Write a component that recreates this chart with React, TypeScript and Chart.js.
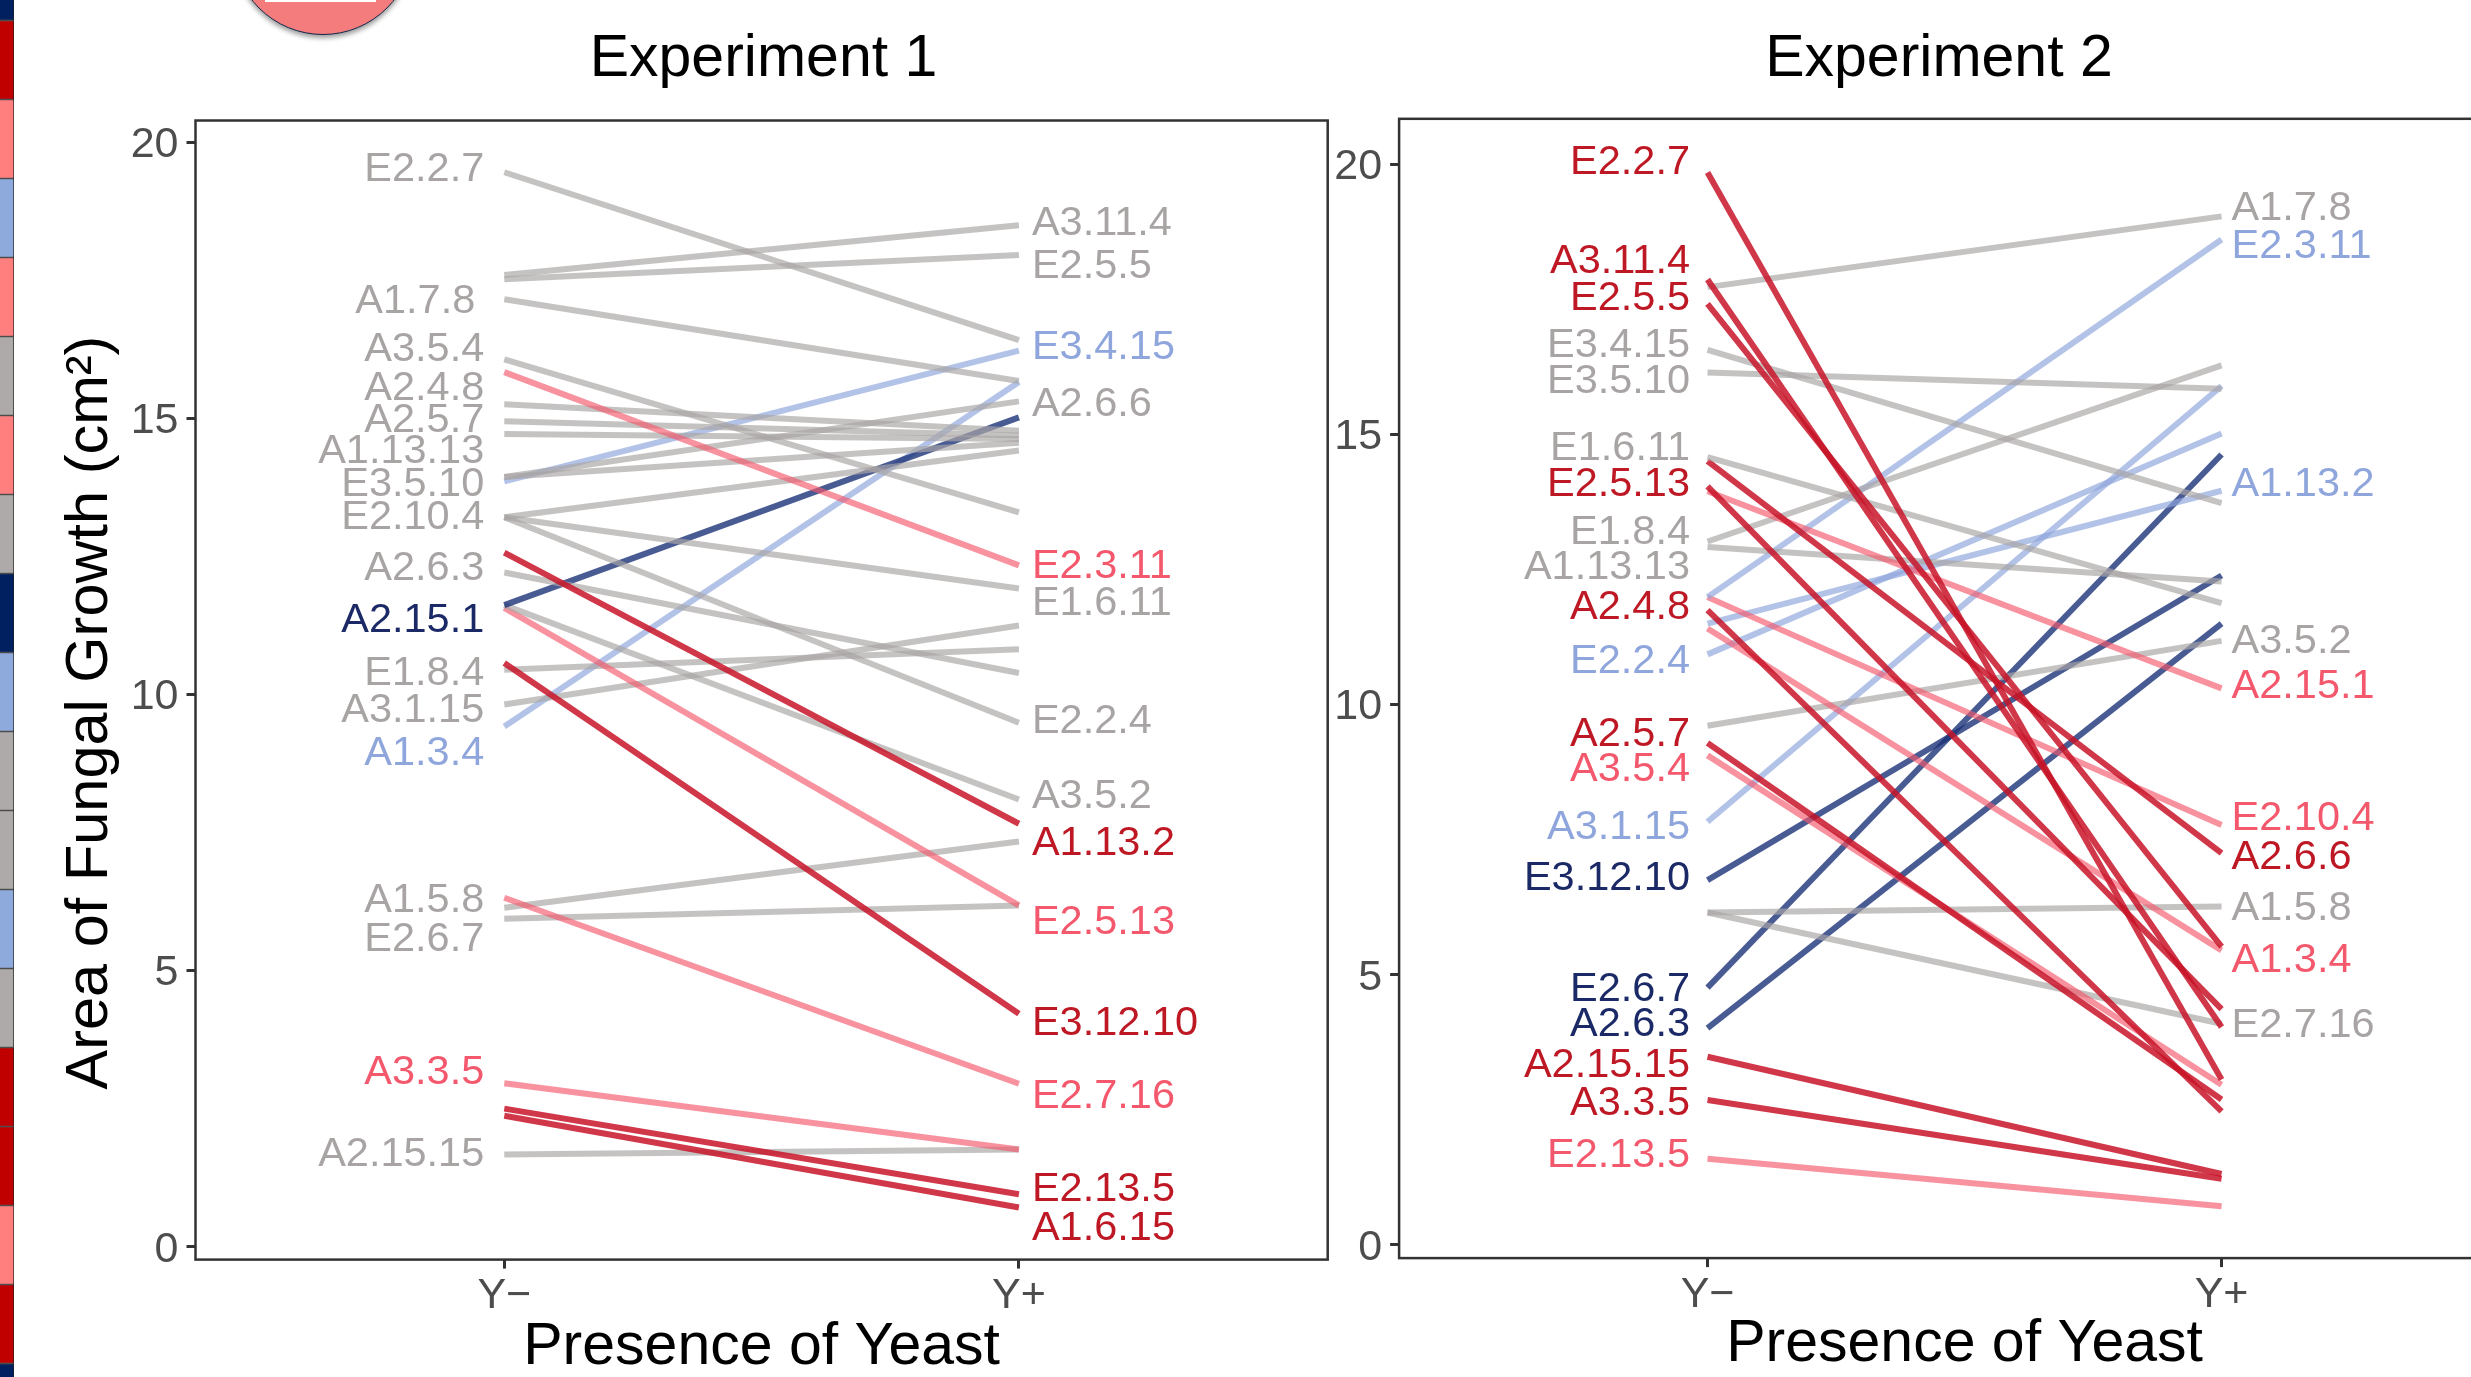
import React, { useEffect, useRef } from "react";
import { Chart, registerables } from "chart.js";

Chart.register(...registerables);

const FONT = "'Liberation Sans', Arial, sans-serif";

const xLabels = ["Y\u2212", "Y+"];
const yTicks = [0, 5, 10, 15, 20];

// Experiment 1
const exp1Names = ["E2.2.7","A3.11.4","E2.5.5","A1.7.8","A3.5.4","E2.3.11","A2.4.8","A2.5.7","A1.13.13","E3.5.10","A2.6.6","E3.4.15","E2.10.4","E1.6.11","E2.2.4","A1.13.2","A2.6.3","A2.15.1","A3.5.2","E2.5.13","E3.12.10","E1.8.4","A3.1.15","A1.3.4","E2.7.16","A1.5.8","E2.6.7","A3.3.5","E2.13.5","A1.6.15","A2.15.15"];
const exp1YMinus = [19.46,17.6,17.52,17.16,16.07,15.84,15.26,14.95,14.72,13.94,13.94,13.86,13.21,13.21,13.21,12.57,12.21,11.62,11.62,11.57,10.57,10.45,9.82,9.42,6.32,6.14,5.94,2.96,2.5,2.37,1.67];
const exp1YPlus = [16.42,18.5,17.96,15.68,13.3,12.34,14.78,14.69,14.63,14.56,15.31,16.23,14.42,11.92,9.49,7.66,10.39,15.02,8.1,6.18,4.22,10.82,11.25,15.66,2.95,7.34,6.18,1.76,0.95,0.71,1.76];
const exp1Class = ["gray","gray","gray","gray","gray","pink","gray","gray","gray","gray","gray","blue","gray","gray","gray","red","gray","navy","gray","pink","red","gray","gray","blue","pink","gray","gray","pink","red","red","gray"];
const exp1Side = ["L","R","R","L","L","R","L","L","L","L","R","R","L","R","R","R","L","L","R","R","R","L","L","L","R","L","L","L","R","R","L"];
const exp1LabelY = [19.56,18.59,17.81,17.18,16.3,12.38,15.59,15.01,14.45,13.85,15.3,16.33,13.26,11.7,9.57,7.35,12.33,11.39,8.2,5.93,4.09,10.44,9.77,8.98,2.78,6.33,5.61,3.2,1.09,0.39,1.73];

// Experiment 2
const exp2Names = ["E2.2.7","A3.11.4","A1.7.8","E2.5.5","E3.4.15","E3.5.10","E1.6.11","A2.6.6","E2.5.13","A2.15.1","E1.8.4","A1.13.13","E2.3.11","E2.10.4","A2.4.8","A1.13.2","A1.3.4","E2.2.4","A3.5.2","A2.5.7","A3.5.4","A3.1.15","E3.12.10","A1.5.8","E2.7.16","E2.6.7","A2.6.3","A2.15.15","A3.3.5","E2.13.5"];
const exp2YMinus = [19.85,17.87,17.73,17.42,16.57,16.15,14.58,14.51,14.04,13.95,13.02,12.92,11.99,11.99,11.75,11.5,11.41,10.93,9.61,9.29,9.06,7.83,6.75,6.15,6.15,4.76,4.01,3.48,2.68,1.59];
const exp2YPlus = [3.06,4.03,19.04,5.52,13.73,15.85,11.88,7.25,4.36,10.3,16.28,12.28,18.61,7.77,2.47,13.96,5.45,15.02,11.18,2.69,2.96,15.9,12.39,6.26,4.09,14.63,11.5,1.31,1.22,0.71];
const exp2Class = ["red","red","gray","red","gray","gray","gray","red","red","pink","gray","gray","blue","pink","red","blue","pink","blue","gray","red","pink","blue","navy","gray","gray","navy","navy","red","red","pink"];
const exp2Side = ["L","L","R","L","L","L","L","R","L","R","L","L","R","R","L","R","R","L","R","L","L","L","L","R","R","L","L","L","L","L"];
const exp2LabelY = [20.1,18.25,19.24,17.57,16.7,16.03,14.79,7.22,14.13,10.39,13.25,12.59,18.53,7.94,11.85,14.13,5.31,10.86,11.23,9.51,8.85,7.77,6.84,6.27,4.12,4.78,4.14,3.38,2.66,1.7];

// Heat strip at the left edge
const stripCells = ["navy","red","salmon","blue","salmon","gray","salmon","gray","navy","blue","gray","gray","blue","gray","red","red","salmon","red","navy"];

const lineColor: Record<string, string> = {
  gray: "rgba(170,165,165,0.68)",
  pink: "rgba(244,90,110,0.66)",
  red: "rgba(200,20,40,0.85)",
  blue: "rgba(143,166,221,0.68)",
  navy: "rgba(27,50,120,0.8)",
};
const labelColor: Record<string, string> = {
  gray: "#A8A4A4",
  pink: "#F4586C",
  red: "#BE1824",
  blue: "#8FA6DD",
  navy: "#1B2A66",
};
const stripColor: Record<string, string> = {
  navy: "#002060",
  red: "#C00000",
  salmon: "#FF7F7F",
  blue: "#8EA9DB",
  gray: "#AEAAAA",
};

type PanelCfg = {
  title: string;
  names: string[];
  minus: number[];
  plus: number[];
  cls: string[];
  side: string[];
  labelY: number[];
  nudge: Record<string, number>;
  leftGap: number;
  rightGap: number;
  yMin: number;
  yMax: number;
  showYTitle: boolean;
  canvasLeft: number;
  canvasWidth: number;
  padRight: number;
  yAxisWidth: number;
  xAxisHeight: number;
  xTitlePad: number;
  titleTop: number;
  titleBottom: number;
  titleShift: number;
};

const panels: PanelCfg[] = [
  {
    title: "Experiment 1", names: exp1Names, minus: exp1YMinus, plus: exp1YPlus, cls: exp1Class,
    side: exp1Side, labelY: exp1LabelY, nudge: { "A1.7.8": -9 }, leftGap: 20, rightGap: 13, yMin: -0.234, yMax: 20.397, showYTitle: true,
    canvasLeft: 40, canvasWidth: 1290, padRight: 2.3, yAxisWidth: 155.5, xAxisHeight: 117.4, xTitlePad: 0,
    titleTop: 25, titleBottom: 25.3, titleShift: 1.9,
  },
  {
    title: "Experiment 2", names: exp2Names, minus: exp2YMinus, plus: exp2YPlus, cls: exp2Class,
    side: exp2Side, labelY: exp2LabelY, nudge: {}, leftGap: 17.5, rightGap: 10, yMin: -0.248, yMax: 20.846, showYTitle: false,
    canvasLeft: 1330, canvasWidth: 1202, padRight: 2, yAxisWidth: 69.1, xAxisHeight: 118.9, xTitlePad: 2.75,
    titleTop: 25, titleBottom: 23.6, titleShift: -25.6,
  },
];

function makePanelPlugin(cfg: PanelCfg) {
  return {
    id: "panelExtras",
    afterLayout(chart: any) {
      const t = chart.titleBlock;
      const a = chart.chartArea;
      if (!t) return;
      const half = (t.right - t.left) / 2;
      const c = (a.left + a.right) / 2 + cfg.titleShift;
      t.left = c - half;
      t.right = c + half;
    },
    afterDraw(chart: any) {
      const { ctx, chartArea: a, scales } = chart;
      ctx.save();
      ctx.strokeStyle = "#333333";
      ctx.lineWidth = 2.5;
      ctx.strokeRect(a.left, a.top, a.right - a.left, a.bottom - a.top);
      ctx.font = `41.5px ${FONT}`;
      ctx.textBaseline = "middle";
      cfg.names.forEach((name, i) => {
        const left = cfg.side[i] === "L";
        const x = left ? scales.x.getPixelForValue(1) - cfg.leftGap : scales.x.getPixelForValue(2) + cfg.rightGap;
        ctx.textAlign = left ? "right" : "left";
        ctx.fillStyle = labelColor[cfg.cls[i]];
        ctx.fillText(name, x + (cfg.nudge[name] || 0), scales.y.getPixelForValue(cfg.labelY[i]) + 3);
      });
      ctx.restore();
    },
  };
}

function Panel({ cfg }: { cfg: PanelCfg }) {
  const ref = useRef<HTMLCanvasElement>(null);
  useEffect(() => {
    const chart = new Chart(ref.current as HTMLCanvasElement, {
      type: "line",
      data: {
        datasets: cfg.names.map((name, i) => ({
          label: name,
          data: [
            { x: 1, y: cfg.minus[i] },
            { x: 2, y: cfg.plus[i] },
          ],
          borderColor: lineColor[cfg.cls[i]],
          borderWidth: 6,
          pointRadius: 0,
          tension: 0,
          fill: false,
        })),
      },
      options: {
        responsive: false,
        animation: false,
        layout: { padding: { left: 0, top: 0, bottom: 0, right: cfg.padRight } },
        plugins: {
          legend: { display: false },
          tooltip: { enabled: false },
          title: {
            display: true,
            text: cfg.title,
            color: "#000000",
            font: { family: FONT, size: 59, weight: "normal", lineHeight: 1.19 },
            padding: { top: cfg.titleTop, bottom: cfg.titleBottom },
          },
        },
        scales: {
          x: {
            type: "linear",
            min: 0.4,
            max: 2.6,
            afterBuildTicks: (s: any) => { s.ticks = [{ value: 1 }, { value: 2 }]; },
            afterFit: (s: any) => { s.height = cfg.xAxisHeight; },
            border: { display: false },
            grid: { display: true, drawOnChartArea: false, drawTicks: true, tickLength: 9, tickWidth: 3, tickColor: "#333333" },
            ticks: {
              color: "#4D4D4D",
              font: { family: FONT, size: 43 },
              padding: 2,
              maxRotation: 0,
              minRotation: 0,
              autoSkip: false,
              callback: (v: any) => xLabels[Number(v) - 1],
            },
            title: {
              display: true,
              text: "Presence of Yeast",
              color: "#000000",
              font: { family: FONT, size: 59, lineHeight: 1 },
              padding: { top: 0, bottom: cfg.xTitlePad },
            },
          },
          y: {
            type: "linear",
            min: cfg.yMin,
            max: cfg.yMax,
            afterBuildTicks: (s: any) => { s.ticks = yTicks.map((value) => ({ value })); },
            afterFit: (s: any) => { s.width = cfg.yAxisWidth; },
            border: { display: false },
            grid: { display: true, drawOnChartArea: false, drawTicks: true, tickLength: 9, tickWidth: 3, tickColor: "#333333" },
            ticks: { color: "#4D4D4D", font: { family: FONT, size: 43 }, padding: 8, autoSkip: false, labelOffset: 3 },
            title: {
              display: cfg.showYTitle,
              text: "Area of Fungal Growth (cm\u00B2)\u00A0\u00A0\u2009",
              color: "#000000",
              font: { family: FONT, size: 59.5, lineHeight: 1 },
              padding: { top: 21, bottom: 0 },
            },
          },
        },
      },
      plugins: [makePanelPlugin(cfg)],
    } as any);
    return () => chart.destroy();
  }, [cfg]);
  return (
    <canvas
      ref={ref}
      width={cfg.canvasWidth}
      height={1377}
      style={{ position: "absolute", left: cfg.canvasLeft, top: 0, display: "block" }}
    />
  );
}

function Strip() {
  const ref = useRef<HTMLCanvasElement>(null);
  useEffect(() => {
    const chart = new Chart(ref.current as HTMLCanvasElement, {
      type: "bar",
      data: {
        labels: ["strip"],
        datasets: stripCells.map((c) => ({
          data: [1],
          backgroundColor: stripColor[c],
          borderColor: "#222222",
          borderWidth: { top: 1, bottom: 1, left: 0, right: 1 },
          borderSkipped: false,
          barPercentage: 1,
          categoryPercentage: 1,
        })),
      },
      options: {
        responsive: false,
        animation: false,
        plugins: { legend: { display: false }, tooltip: { enabled: false } },
        scales: {
          x: { display: false, stacked: true },
          y: { display: false, stacked: true, reverse: true, min: 0.7405, max: 18.1709 },
        },
      },
    } as any);
    return () => chart.destroy();
  }, []);
  return (
    <canvas ref={ref} width={14} height={1377} style={{ position: "absolute", left: 0, top: 0, display: "block" }} />
  );
}

export default function App() {
  return (
    <div style={{ position: "absolute", left: 0, top: 0, width: 2471, height: 1377, overflow: "hidden", background: "#fff" }}>
      <Strip />
      <div
        style={{
          position: "absolute",
          left: 232,
          top: -147,
          width: 182,
          height: 182,
          borderRadius: "50%",
          boxSizing: "border-box",
          background: "#F47C7C",
          border: "1.5px solid #14284B",
          boxShadow: "0 3px 5px rgba(0,0,0,0.4)",
        }}
      />
      <div style={{ position: "absolute", left: 265, top: 0, width: 111, height: 1.5, background: "#fff" }} />
      {panels.map((p) => (
        <Panel key={p.title} cfg={p} />
      ))}
    </div>
  );
}
